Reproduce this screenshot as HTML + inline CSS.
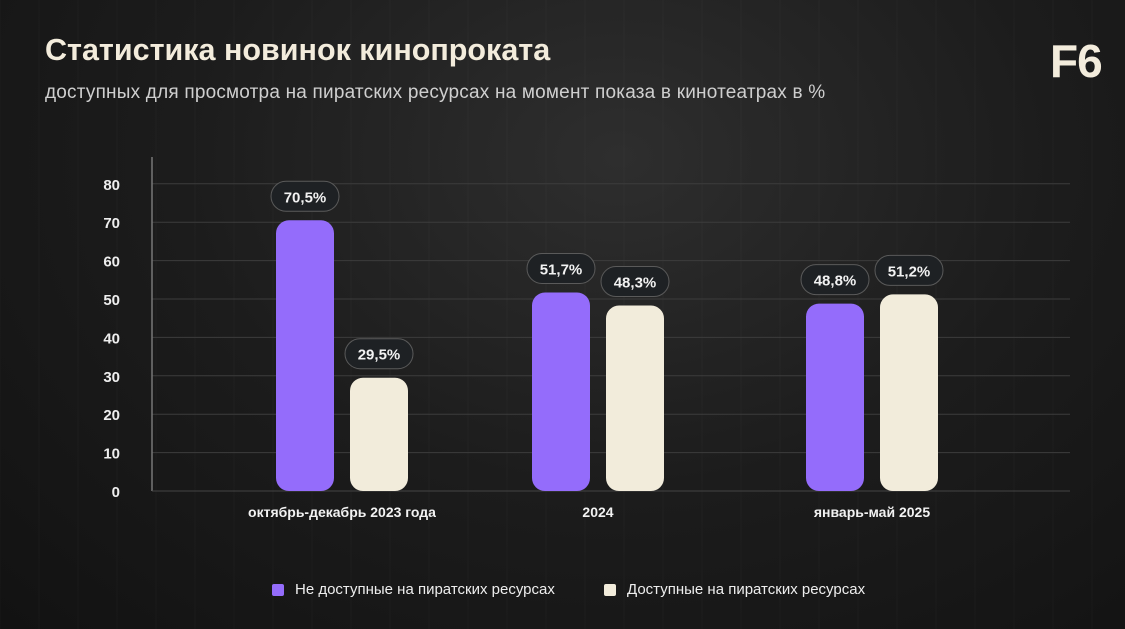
<!DOCTYPE html>
<html><head><meta charset="utf-8"><style>
body{margin:0;width:1125px;height:629px;overflow:hidden;background:#151515;font-family:"Liberation Sans",sans-serif}
#bg{position:absolute;left:0;top:0;width:1125px;height:629px;background:radial-gradient(ellipse at 55% 25%,#2e2e2e 0%,#1c1c1c 50%,#121212 100%)}
.t{position:absolute;white-space:nowrap}
</style></head><body>
<div id="bg"></div>
<div class="t" style="left:45px;top:33px;font-size:30.5px;font-weight:bold;color:#f3ecdc;letter-spacing:0px">Статистика новинок кинопроката</div>
<div class="t" style="left:45px;top:82px;font-size:19px;color:#cfcfcf;letter-spacing:0.2px">доступных для просмотра на пиратских ресурсах на момент показа в кинотеатрах в %</div>
<div class="t" style="left:1050px;top:34px;font-size:46px;font-weight:bold;color:#f3ecdc;letter-spacing:-1px">F6</div>
<svg id="c" width="1125" height="629" style="position:absolute;left:0;top:0"></svg>
<script>
const categories=["октябрь-декабрь 2023 года","2024","январь-май 2025"];
const notAvailable=[70.5,51.7,48.8];
const available=[29.5,48.3,51.2];
const ticks=[0,10,20,30,40,50,60,70,80];
const labelsA=["70,5%","51,7%","48,8%"];
const labelsB=["29,5%","48,3%","51,2%"];
const NS="http://www.w3.org/2000/svg";
const svg=document.getElementById('c');
const y=v=>491-v*3.84;
const groupX=[342,598,872];
function mk(t,a,p){const e=document.createElementNS(NS,t);for(const k in a)e.setAttribute(k,a[k]);(p||svg).appendChild(e);return e;}
for(let x=0;x<1125;x+=39){const l=mk('line',{x1:x,y1:0,x2:x,y2:629,stroke:'#ffffff',"stroke-opacity":0.025});}
ticks.forEach(t=>{
 if(t>0){const g=mk('line',{x1:152,y1:y(t),x2:1070,y2:y(t),stroke:'#3c3c3c','stroke-width':1});
 
 }
 const tx=mk('text',{x:120,y:y(t)+6,'text-anchor':'end',fill:'#eeeeee','font-size':15,'font-weight':'bold','font-family':'Liberation Sans'});
 tx.textContent=t;
 
 
});
const ax=mk('line',{x1:152,y1:157,x2:152,y2:491,stroke:'#777','stroke-width':1.5});


const bx=mk('line',{x1:152,y1:491,x2:1070,y2:491,stroke:'#444'});


function bar(cx,v,color,lab,name){
 const top=y(v),w=58;
 const r=mk('rect',{x:cx-w/2,y:top,width:w,height:491-top,rx:13,fill:color});
 
 
 const p=mk('rect',{x:cx-34,y:top-39,width:68,height:30,rx:15,fill:'#1e2124',stroke:'#5a5a5a','stroke-width':1});
 
 
 const t=mk('text',{x:cx,y:top-18,'text-anchor':'middle',fill:'#f2f2f2','font-size':15,'font-weight':'bold','font-family':'Liberation Sans'});
 t.textContent=lab;
 
 
}
categories.forEach((c,i)=>{
 bar(groupX[i]-37,notAvailable[i],'#946cfb',labelsA[i],'bar-not-available');
 bar(groupX[i]+37,available[i],'#f2ecdb',labelsB[i],'bar-available');
 const t=mk('text',{x:groupX[i],y:517,'text-anchor':'middle',fill:'#f2f2f2','font-size':14,'font-weight':'bold','font-family':'Liberation Sans'});
 t.textContent=c;
 
 
});
</script>
<div>
<div style="position:absolute;left:272px;top:584px;width:12px;height:12px;border-radius:2px;background:#946cfb"></div>
<div class="t" style="left:295px;top:581px;font-size:15px;color:#eeeeee">Не доступные на пиратских ресурсах</div>
<div style="position:absolute;left:604px;top:584px;width:12px;height:12px;border-radius:2px;background:#f2ecdb"></div>
<div class="t" style="left:627px;top:581px;font-size:15px;color:#eeeeee">Доступные на пиратских ресурсах</div>
</div>
</body></html>
